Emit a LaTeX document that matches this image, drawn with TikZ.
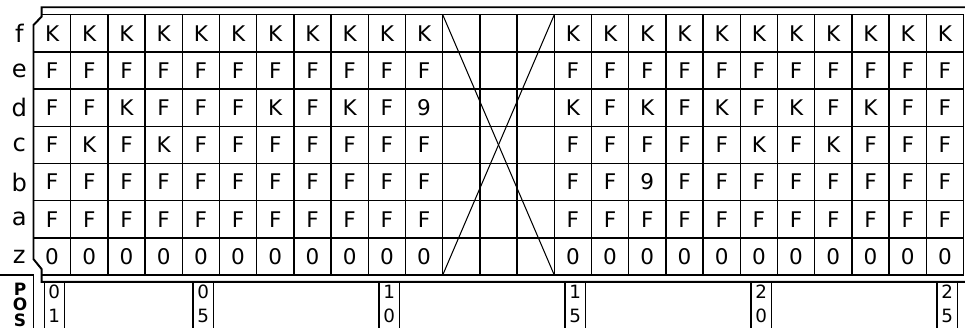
\documentclass[tikz,border=0pt]{standalone}
\usepackage{fontspec}
\setmainfont{DejaVu Sans}
\usetikzlibrary{calc}

\tikzset{
  cell/.style={font=\fontsize{16.5}{18}\selectfont, inner sep=0pt},
  rowlab/.style={font=\fontsize{18.5}{20}\selectfont, inner sep=0pt},
  posletter/.style={font=\fontsize{13}{14}\selectfont\bfseries, inner sep=0pt},
  posdigit/.style={font=\fontsize{14}{15}\selectfont, inner sep=0pt},
  gridline/.style={line width=1pt},
  frameline/.style={line width=1.5pt},
  crossline/.style={line width=0.8pt}
}

\begin{document}
\begin{tikzpicture}[x=1cm, y=1cm]
\useasboundingbox (-0.9,0.395) rectangle (25.04,-8.42);

% OUTER FRAME (chamfered left corners)
\draw[frameline] (25.04,0.2) -- (0.22,0.2) -- (0.22,-0.05) -- (0,-0.28)
  -- (0,-6.57) -- (0.22,-6.84) -- (0.22,-7.18) -- (25.04,-7.18);

% GRID
\draw[gridline] (0.22,0) -- (25,0);
\foreach \y in {1,...,6} \draw[gridline] (0,-\y) -- (25,-\y);
\draw[gridline] (0.22,-7) -- (25,-7);
\foreach \x in {1,...,25} \draw[gridline] (\x,0) -- (\x,-7);

% CROSS over the empty columns
\coordinate (xtl) at (11,0);
\coordinate (xtr) at (14,0);
\coordinate (xbl) at (11,-7);
\coordinate (xbr) at (14,-7);
\draw[crossline] (xtl) -- (xbr);
\draw[crossline] (xtr) -- (xbl);

% ROW LABELS
\foreach \lab [count=\r from 0] in {f,e,d,c,b,a,z}
  \node[rowlab] (lab-\lab) at (-0.38,-\r-0.5) {\lab};

% CELLS, left block (columns 1-11)
\foreach \c [count=\i] in {K,K,K,K,K,K,K,K,K,K,K}
  \node[cell] (f-\i) at (\i-0.5,-0.5) {\c};
\foreach \c [count=\i] in {F,F,F,F,F,F,F,F,F,F,F}
  \node[cell] (e-\i) at (\i-0.5,-1.5) {\c};
\foreach \c [count=\i] in {F,F,K,F,F,F,K,F,K,F,9}
  \node[cell] (d-\i) at (\i-0.5,-2.5) {\c};
\foreach \c [count=\i] in {F,K,F,K,F,F,F,F,F,F,F}
  \node[cell] (c-\i) at (\i-0.5,-3.5) {\c};
\foreach \c [count=\i] in {F,F,F,F,F,F,F,F,F,F,F}
  \node[cell] (b-\i) at (\i-0.5,-4.5) {\c};
\foreach \c [count=\i] in {F,F,F,F,F,F,F,F,F,F,F}
  \node[cell] (a-\i) at (\i-0.5,-5.5) {\c};
\foreach \c [count=\i] in {0,0,0,0,0,0,0,0,0,0,0}
  \node[cell] (z-\i) at (\i-0.5,-6.5) {\c};

% CELLS, right block (columns 15-25)
\foreach \c [count=\i from 15] in {K,K,K,K,K,K,K,K,K,K,K}
  \node[cell] (f-\i) at (\i-0.5,-0.5) {\c};
\foreach \c [count=\i from 15] in {F,F,F,F,F,F,F,F,F,F,F}
  \node[cell] (e-\i) at (\i-0.5,-1.5) {\c};
\foreach \c [count=\i from 15] in {K,F,K,F,K,F,K,F,K,F,F}
  \node[cell] (d-\i) at (\i-0.5,-2.5) {\c};
\foreach \c [count=\i from 15] in {F,F,F,F,F,K,F,K,F,F,F}
  \node[cell] (c-\i) at (\i-0.5,-3.5) {\c};
\foreach \c [count=\i from 15] in {F,F,9,F,F,F,F,F,F,F,F}
  \node[cell] (b-\i) at (\i-0.5,-4.5) {\c};
\foreach \c [count=\i from 15] in {F,F,F,F,F,F,F,F,F,F,F}
  \node[cell] (a-\i) at (\i-0.5,-5.5) {\c};
\foreach \c [count=\i from 15] in {0,0,0,0,0,0,0,0,0,0,0}
  \node[cell] (z-\i) at (\i-0.5,-6.5) {\c};

% POS corner
\draw[frameline] (-0.9,-7) -- (0,-7) -- (0,-8.42);
\node[posletter] (pos-p) at (-0.36,-7.37) {P};
\node[posletter] (pos-o) at (-0.36,-7.79) {O};
\node[posletter] (pos-s) at (-0.36,-8.21) {S};

% POSITION MARKS under the grid
\foreach \k/\hi/\lo in {1/0/1, 5/0/5, 10/1/0, 15/1/5, 20/2/0, 25/2/5} {
  \draw[gridline] (\k-0.71,-7.18) -- (\k-0.71,-8.42);
  \draw[gridline] (\k-0.17,-7.18) -- (\k-0.17,-8.42);
  \node[posdigit] (pos\k-hi) at (\k-0.44,-7.44) {\hi};
  \node[posdigit] (pos\k-lo) at (\k-0.44,-8.10) {\lo};
}

\end{tikzpicture}
\end{document}
